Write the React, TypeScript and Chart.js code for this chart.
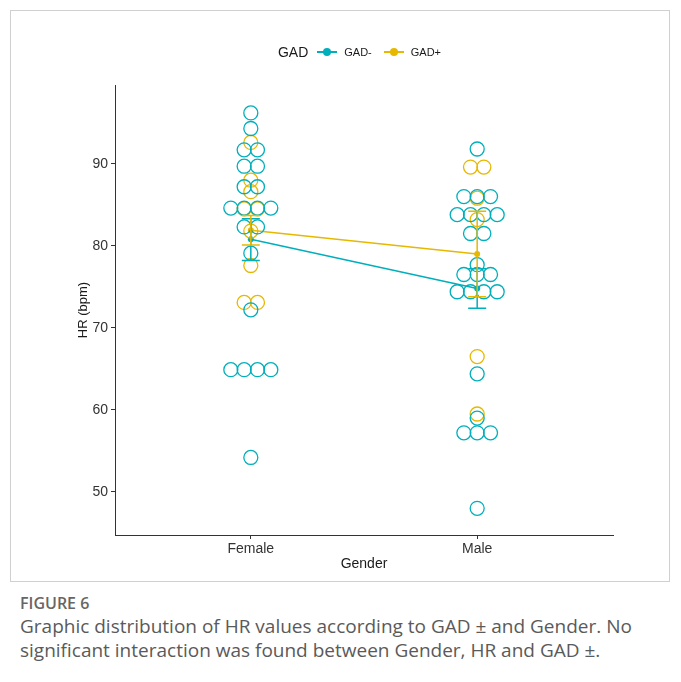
import React, { useEffect, useRef } from "react";
import { Chart, registerables } from "chart.js";

Chart.register(...registerables);

const categories = ["Female", "Male"];
const groupLabels = ["GAD-", "GAD+"];
const groupColors = ["#00AFBB", "#E7B800"];

// HR values (bpm) per group and gender
const femaleGadNeg = [96.2, 94.3, 91.7, 91.7, 89.7, 89.7, 87.2, 87.2, 84.6, 84.6, 84.6, 84.6, 82.3, 82.3, 79.1, 72.2, 64.9, 64.9, 64.9, 64.9, 54.2];
const maleGadNeg = [91.8, 86.0, 86.0, 86.0, 83.8, 83.8, 83.8, 83.8, 81.5, 81.5, 77.7, 76.5, 76.5, 76.5, 74.4, 74.4, 74.4, 74.4, 64.4, 59.0, 57.2, 57.2, 57.2, 48.0];
const femaleGadPos = [92.6, 88.0, 86.6, 84.5, 84.5, 81.8, 77.6, 73.1, 73.1];
const maleGadPos = [89.6, 89.6, 85.8, 83.2, 66.5, 59.5];

// means and error bar limits [Female, Male]
const meanGadNeg = [80.8, 74.8];
const meanGadPos = [81.9, 79.0];
const errLowGadNeg = [78.2, 72.4];
const errHighGadNeg = [83.3, 77.2];
const errLowGadPos = [80.1, 73.8];
const errHighGadPos = [83.7, 84.2];

const yTicks = [50, 60, 70, 80, 90];
const yMin = 44.75;
const yMax = 99.6;

const DOT_SPACING = 0.0589; // in category units (dot width)
const FONT = "'Liberation Sans', Arial, Helvetica, sans-serif";

function stackPoints(values: number[], center: number) {
  const counts = new Map<number, number>();
  values.forEach((v) => counts.set(v, (counts.get(v) || 0) + 1));
  const seen = new Map<number, number>();
  return values.map((v) => {
    const n = counts.get(v) as number;
    const i = seen.get(v) || 0;
    seen.set(v, i + 1);
    return { x: center + (i - (n - 1) / 2) * DOT_SPACING, y: v };
  });
}

const errorBarPlugin = {
  id: "errorBars",
  afterDatasetsDraw(chart: any) {
    const { ctx, scales } = chart;
    const xs = scales.x;
    const ys = scales.y;
    const sets = [
      { low: errLowGadNeg, high: errHighGadNeg, color: groupColors[0] },
      { low: errLowGadPos, high: errHighGadPos, color: groupColors[1] },
    ];
    ctx.save();
    ctx.lineWidth = 1.5;
    sets.forEach((s) => {
      categories.forEach((_, i) => {
        const px = xs.getPixelForValue(i + 1);
        const pl = ys.getPixelForValue(s.low[i]);
        const ph = ys.getPixelForValue(s.high[i]);
        const half = 9;
        ctx.strokeStyle = s.color;
        ctx.beginPath();
        ctx.moveTo(px, pl);
        ctx.lineTo(px, ph);
        ctx.moveTo(px - half, pl);
        ctx.lineTo(px + half, pl);
        ctx.moveTo(px - half, ph);
        ctx.lineTo(px + half, ph);
        ctx.stroke();
      });
    });
    ctx.restore();
  },
};

function ChartCanvas() {
  const ref = useRef<HTMLCanvasElement | null>(null);
  useEffect(() => {
    if (!ref.current) return;
    const dotStyle = (color: string) => ({
      type: "scatter" as const,
      showLine: false,
      pointStyle: "circle",
      pointRadius: 7,
      pointBorderWidth: 1.3,
      pointBorderColor: color,
      pointBackgroundColor: "rgba(0,0,0,0)",
      borderColor: color,
      backgroundColor: "rgba(0,0,0,0)",
    });
    const meanStyle = (color: string) => ({
      type: "line" as const,
      borderColor: color,
      backgroundColor: color,
      borderWidth: 1.5,
      pointRadius: 3,
      pointBorderWidth: 0,
      pointBackgroundColor: color,
      showLine: true,
    });
    const chart = new Chart(ref.current, {
      type: "scatter",
      data: {
        datasets: [
          {
            ...dotStyle(groupColors[0]),
            label: groupLabels[0],
            data: [...stackPoints(femaleGadNeg, 1), ...stackPoints(maleGadNeg, 2)],
          },
          {
            ...dotStyle(groupColors[1]),
            label: groupLabels[1],
            data: [...stackPoints(femaleGadPos, 1), ...stackPoints(maleGadPos, 2)],
          },
          {
            ...meanStyle(groupColors[0]),
            label: groupLabels[0] + " mean",
            data: meanGadNeg.map((v, i) => ({ x: i + 1, y: v })),
          } as any,
          {
            ...meanStyle(groupColors[1]),
            label: groupLabels[1] + " mean",
            data: meanGadPos.map((v, i) => ({ x: i + 1, y: v })),
          } as any,
        ],
      },
      options: {
        responsive: false,
        animation: false,
        devicePixelRatio: 1,
        layout: { padding: { top: 85, right: 68, left: 60, bottom: 0 } },
        plugins: {
          legend: { display: false },
          tooltip: { enabled: false },
        },
        scales: {
          x: {
            type: "linear",
            min: 0.4,
            max: 2.6,
            afterFit: (s: any) => {
              s.height = 55;
            },
            afterBuildTicks: (s: any) => {
              s.ticks = categories.map((_, i) => ({ value: i + 1 }));
            },
            ticks: {
              callback: (v: any) => categories[Math.round(v) - 1] ?? "",
              color: "#333333",
              font: { family: FONT, size: 14 },
              padding: 2,
              maxRotation: 0,
            },
            grid: {
              drawOnChartArea: false,
              drawTicks: true,
              tickLength: 4,
              color: "#333333",
              lineWidth: 1,
            },
            border: { display: true, color: "#333333", width: 1 },
            title: {
              display: true,
              text: "Gender",
              color: "#1a1a1a",
              font: { family: FONT, size: 14 },
              padding: { top: 0, bottom: 17 },
            },
          },
          y: {
            type: "linear",
            min: yMin,
            max: yMax,
            afterFit: (s: any) => {
              s.width = 55;
            },
            afterBuildTicks: (s: any) => {
              s.ticks = yTicks.map((v) => ({ value: v }));
            },
            ticks: {
              color: "#333333",
              font: { family: FONT, size: 14 },
              padding: 3,
            },
            grid: {
              drawOnChartArea: false,
              drawTicks: true,
              tickLength: 4,
              color: "#333333",
              lineWidth: 1,
            },
            border: { display: true, color: "#333333", width: 1 },
            title: {
              display: true,
              text: "HR (bpm)",
              color: "#1a1a1a",
              font: { family: FONT, size: 13 },
              padding: { top: 16, bottom: 0 },
            },
          },
        },
      } as any,
      plugins: [errorBarPlugin],
    });
    return () => chart.destroy();
  }, []);
  return (
    <canvas
      ref={ref}
      width={681}
      height={590}
      style={{ position: "absolute", left: 0, top: 0, width: 681, height: 590 }}
    />
  );
}

function LegendMarker({ color }: { color: string }) {
  return (
    <span
      style={{
        position: "relative",
        display: "inline-block",
        width: 20,
        height: 10,
        margin: "0 7px 0 9px",
      }}
    >
      <span
        style={{
          position: "absolute",
          left: 0,
          top: 4,
          width: 20,
          height: 2,
          background: color,
        }}
      />
      <span
        style={{
          position: "absolute",
          left: 6,
          top: 1,
          width: 8,
          height: 8,
          borderRadius: 4,
          background: color,
        }}
      />
    </span>
  );
}

export default function App() {
  return (
    <div
      style={{
        position: "fixed",
        left: 0,
        top: 0,
        width: 681,
        height: 682,
        background: "#ffffff",
        overflow: "hidden",
      }}
    >
      <div
        style={{
          position: "absolute",
          left: 10,
          top: 10,
          width: 660,
          height: 572,
          border: "1px solid #d0d0d0",
          boxSizing: "border-box",
        }}
      />
      <ChartCanvas />
      <div
        style={{
          position: "absolute",
          top: 44,
          left: 0,
          width: 681,
          display: "flex",
          justifyContent: "center",
          alignItems: "center",
          fontFamily: FONT,
          color: "#1a1a1a",
          paddingLeft: 38,
          boxSizing: "border-box",
        }}
      >
        <span style={{ fontSize: 14 }}>GAD</span>
        <LegendMarker color={groupColors[0]} />
        <span style={{ fontSize: 11 }}>{groupLabels[0]}</span>
        <span style={{ display: "inline-block", width: 3 }} />
        <LegendMarker color={groupColors[1]} />
        <span style={{ fontSize: 11 }}>{groupLabels[1]}</span>
      </div>
      <div
        style={{
          position: "absolute",
          left: 20,
          top: 592,
          fontFamily: "'Open Sans', sans-serif",
          fontSize: 16,
          fontWeight: 600,
          color: "#666666",
        }}
      >
        FIGURE 6
      </div>
      <div
        style={{
          position: "absolute",
          left: 20,
          top: 614,
          width: 660,
          fontFamily: "'Open Sans', sans-serif",
          fontSize: 19,
          lineHeight: "24px",
          color: "#5a5a5a",
          whiteSpace: "nowrap",
        }}
      >
        Graphic distribution of HR values according to GAD ± and Gender. No
        <br />
        significant interaction was found between Gender, HR and GAD ±.
      </div>
    </div>
  );
}
